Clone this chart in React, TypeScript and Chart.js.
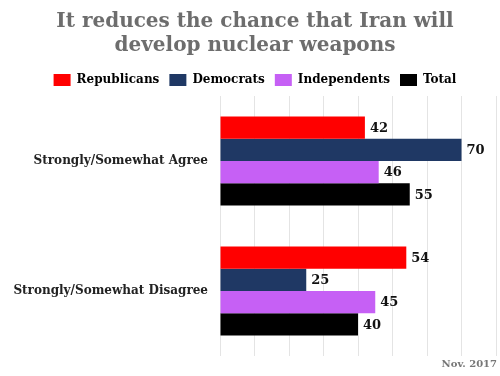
import React, { useEffect, useRef } from 'react';
import { Chart, registerables } from 'chart.js';

Chart.register(...registerables);

const categories = ['Strongly/Somewhat Agree', 'Strongly/Somewhat Disagree'];
const seriesNames = ['Republicans', 'Democrats', 'Independents', 'Total'];
const republicans = [42, 54];
const democrats = [70, 25];
const independents = [46, 45];
const total = [55, 40];
const seriesColors = ['#ff0000', '#1f3864', '#c660f5', '#000000'];
const titleLines = ['It reduces the chance that Iran will', 'develop nuclear weapons'];
const footnote = 'Nov. 2017';
const xMin = 0;
const xMax = 80;
const xStep = 10;

const FONT = "'DejaVu Serif', Georgia, serif";

const valueLabels = {
  id: 'valueLabels',
  afterDatasetsDraw(chart: any) {
    const ctx = chart.ctx;
    ctx.save();
    ctx.font = `bold 13px ${FONT}`;
    ctx.fillStyle = '#111111';
    ctx.textAlign = 'left';
    ctx.textBaseline = 'middle';
    chart.data.datasets.forEach((ds: any, i: number) => {
      const meta = chart.getDatasetMeta(i);
      meta.data.forEach((bar: any, j: number) => {
        ctx.fillText(String(ds.data[j]), bar.x + 5, bar.y + 1);
      });
    });
    ctx.restore();
  },
};

const footnotePlugin = {
  id: 'footnotePlugin',
  afterDraw(chart: any) {
    const ctx = chart.ctx;
    ctx.save();
    ctx.font = `bold 10px ${FONT}`;
    ctx.fillStyle = '#777777';
    ctx.textAlign = 'right';
    ctx.textBaseline = 'middle';
    ctx.fillText(footnote, 497, 364);
    ctx.restore();
  },
};

export default function App() {
  const ref = useRef<HTMLCanvasElement>(null);
  useEffect(() => {
    document.body.style.margin = '0';
    const seriesData = [republicans, democrats, independents, total];
    const chart = new Chart(ref.current!, {
      type: 'bar',
      data: {
        labels: categories,
        datasets: seriesNames.map((name, i) => ({
          label: name,
          data: seriesData[i],
          backgroundColor: seriesColors[i],
          borderWidth: 0,
          categoryPercentage: 0.684,
          barPercentage: 1.0,
        })),
      },
      options: {
        indexAxis: 'y',
        animation: false,
        responsive: false,
        layout: { padding: { left: 14, right: 4, top: 0, bottom: 20 } },
        plugins: {
          title: {
            display: true,
            text: titleLines,
            color: '#6d6d6d',
            font: { family: FONT, size: 20, weight: 'bold', lineHeight: 1.2 },
            padding: { top: 10, bottom: 6 },
          },
          legend: {
            display: true,
            labels: {
              boxWidth: 17,
              boxHeight: 12,
              color: '#000000',
              font: { family: FONT, size: 12, weight: 'bold' },
              padding: 10,
            },
          },
          tooltip: { enabled: false },
        },
        scales: {
          x: {
            min: xMin,
            max: xMax,
            ticks: { display: false, stepSize: xStep },
            grid: { color: '#e4e4e4', drawTicks: false },
            border: { display: false },
          },
          y: {
            ticks: {
              color: '#222222',
              font: { family: FONT, size: 12, weight: 'bold' },
              padding: 4,
            },
            grid: { display: false },
            border: { display: false },
            afterFit(scale: any) {
              scale.width = 206;
            },
          },
        },
      },
      plugins: [valueLabels, footnotePlugin],
    });
    return () => chart.destroy();
  }, []);
  return <canvas ref={ref} width={500} height={376} style={{ display: 'block' }} />;
}
